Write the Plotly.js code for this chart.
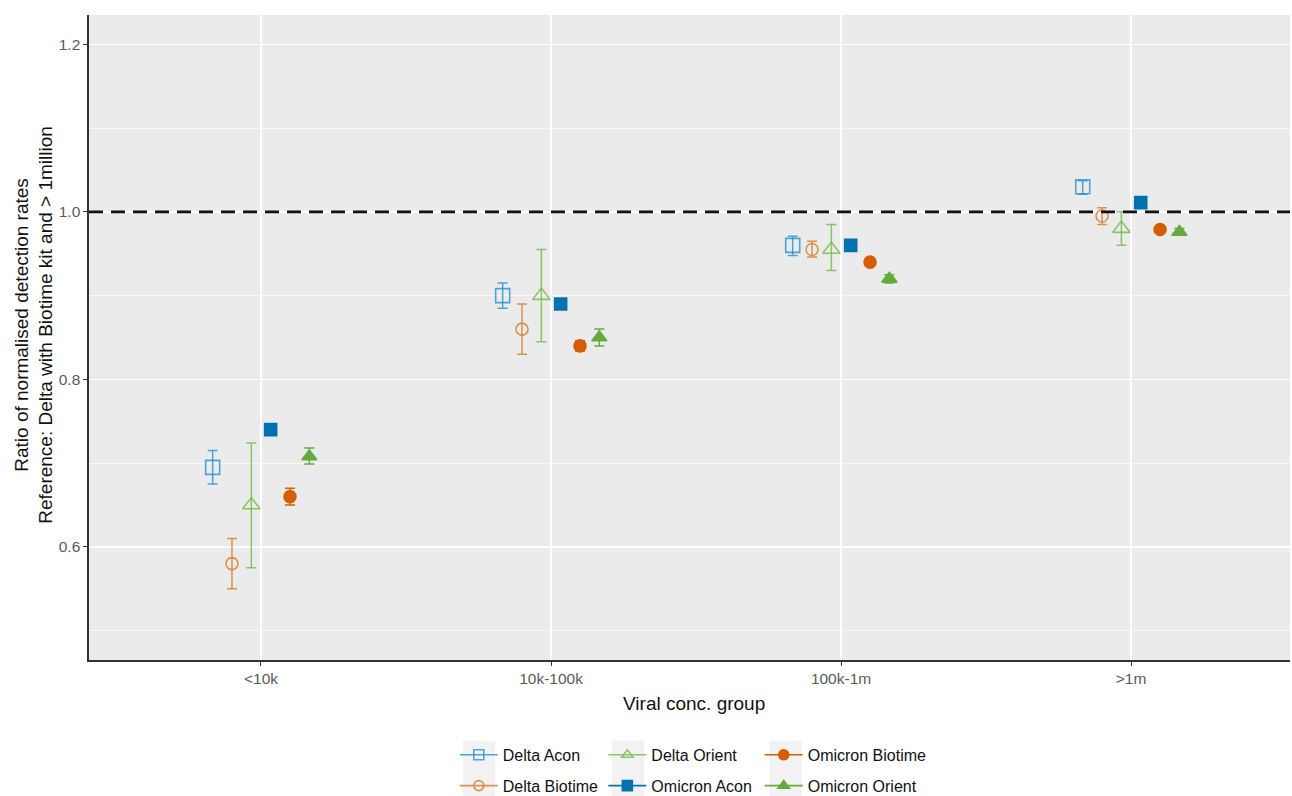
<!DOCTYPE html>
<html>
<head>
<meta charset="utf-8">
<script src="https://cdn.plot.ly/plotly-3.0.1.min.js"></script>
<style>
  html, body { margin: 0; padding: 0; background: #ffffff; }
  #chart { width: 1292px; height: 796px; }
</style>
</head>
<body>
<div id="chart"></div>
<script>
// Viral concentration groups on the x axis
const categories = ['<10k', '10k-100k', '100k-1m', '>1m'];

// Ratio of normalised detection rates with lower / upper interval bounds
const deltaAcon      = [0.695, 0.900, 0.960, 1.030];
const deltaAconLo    = [0.675, 0.885, 0.948, 1.021];
const deltaAconHi    = [0.715, 0.915, 0.971, 1.037];

const deltaBiotime   = [0.580, 0.860, 0.955, 0.995];
const deltaBiotimeLo = [0.550, 0.830, 0.946, 0.985];
const deltaBiotimeHi = [0.610, 0.890, 0.965, 1.005];

const deltaOrient    = [0.650, 0.900, 0.955, 0.980];
const deltaOrientLo  = [0.575, 0.845, 0.930, 0.960];
const deltaOrientHi  = [0.724, 0.955, 0.985, 1.000];

const omicronAcon    = [0.740, 0.890, 0.960, 1.011];
const omicronAconLo  = [0.737, 0.887, 0.957, 1.008];
const omicronAconHi  = [0.743, 0.893, 0.963, 1.014];

const omicronBiotime   = [0.660, 0.840, 0.940, 0.979];
const omicronBiotimeLo = [0.650, 0.834, 0.936, 0.975];
const omicronBiotimeHi = [0.670, 0.846, 0.944, 0.983];

const omicronOrient    = [0.708, 0.850, 0.920, 0.976];
const omicronOrientLo  = [0.699, 0.840, 0.915, 0.972];
const omicronOrientHi  = [0.718, 0.860, 0.925, 0.980];

// reference level of the ratio (dashed line)
const referenceLevel = 1.0;

const seriesNames = ['Delta Acon', 'Delta Biotime', 'Delta Orient',
                     'Omicron Acon', 'Omicron Biotime', 'Omicron Orient'];

// styling per series (colour, symbol, size) and legend column
const styles = [
  {color: 'rgba(40,145,205,0.80)', symbol: 'square-open',      size: 14, legend: 'legend'},
  {color: 'rgba(214,130,50,0.85)', symbol: 'circle-open',      size: 12, legend: 'legend'},
  {color: 'rgba(120,190,80,0.85)', symbol: 'triangle-up-open', size: 15, legend: 'legend2'},
  {color: '#0072B2',               symbol: 'square',           size: 12, legend: 'legend2'},
  {color: '#D55E00',               symbol: 'circle',           size: 12, legend: 'legend3'},
  {color: '#62AC3E',               symbol: 'triangle-up',      size: 13, legend: 'legend3'}
];

const values = [deltaAcon, deltaBiotime, deltaOrient, omicronAcon, omicronBiotime, omicronOrient];
const lows   = [deltaAconLo, deltaBiotimeLo, deltaOrientLo, omicronAconLo, omicronBiotimeLo, omicronOrientLo];
const highs  = [deltaAconHi, deltaBiotimeHi, deltaOrientHi, omicronAconHi, omicronBiotimeHi, omicronOrientHi];

// dodge the six series side by side within each group
const dodgeWidth = 0.4;
const nSeries = seriesNames.length;

const traces = [];
seriesNames.forEach((name, i) => {
  const st = styles[i];
  const offset = (i - (nSeries - 1) / 2) * dodgeWidth / nSeries;
  const xs = categories.map((c, k) => k + offset);
  const v = values[i];
  traces.push({
    type: 'scatter',
    mode: 'markers',
    name: name,
    x: xs,
    y: v,
    showlegend: false,
    marker: {color: st.color, symbol: st.symbol, size: st.size, line: {color: st.color, width: 1.6}},
    error_y: {
      type: 'data',
      symmetric: false,
      array: highs[i].map((h, k) => h - v[k]),
      arrayminus: lows[i].map((l, k) => v[k] - l),
      color: st.color,
      thickness: 1.5,
      width: 5
    },
    hovertemplate: name + '<br>%{y:.3f}<extra></extra>'
  });
});

// legend entries: point + line keys arranged in three columns
seriesNames.forEach((name, i) => {
  const st = styles[i];
  traces.push({
    type: 'scatter',
    mode: 'lines+markers',
    name: name,
    x: [null],
    y: [null],
    legend: st.legend,
    legendgroup: 'g' + i,
    hoverinfo: 'skip',
    line: {color: st.color, width: 1.6},
    marker: {color: st.color, symbol: st.symbol, size: 10, line: {color: st.color, width: 1.6}}
  });
});

const legendBase = {
  xref: 'container', yref: 'container',
  xanchor: 'left', yanchor: 'top',
  orientation: 'v',
  bgcolor: 'rgba(0,0,0,0)',
  tracegroupgap: 7,
  itemwidth: 38,
  font: {family: 'Liberation Sans, Arial, sans-serif', size: 16, color: '#111'}
};

// light key backgrounds behind the legend symbols
const keyBg = [0.3114, 0.4355, 0.5665].map(x0 => ({
  type: 'rect', xref: 'paper', yref: 'paper',
  x0: x0, x1: x0 + 0.0268, y0: -0.125, y1: -0.23,
  fillcolor: '#F2F2F2', line: {width: 0}, layer: 'below'
}));

const titleFont = {family: 'Liberation Sans, Arial, sans-serif', size: 19, color: '#111'};
const tickFont = {family: 'Liberation Sans, Arial, sans-serif', size: 15.5, color: '#5a5a5a'};

const layout = {
  width: 1292,
  height: 796,
  margin: {l: 89, r: 2, t: 15, b: 136, autoexpand: false},
  paper_bgcolor: '#ffffff',
  plot_bgcolor: '#EBEBEB',
  font: {family: 'Liberation Sans, Arial, sans-serif', color: '#111'},
  showlegend: true,
  legend:  Object.assign({}, legendBase, {x: 0.352, y: 0.073}),
  legend2: Object.assign({}, legendBase, {x: 0.467, y: 0.073}),
  legend3: Object.assign({}, legendBase, {x: 0.588, y: 0.073}),
  xaxis: {
    range: [-0.593, 3.548],
    tickvals: [0, 1, 2, 3],
    ticktext: categories,
    showgrid: true,
    gridcolor: '#ffffff',
    gridwidth: 1.3,
    zeroline: false,
    showline: true,
    linecolor: '#333333',
    linewidth: 1.6,
    ticks: 'outside',
    ticklen: 4,
    tickwidth: 1,
    tickcolor: '#333333',
    automargin: false,
    tickfont: tickFont
  },
  yaxis: {
    range: [0.465, 1.235],
    tickvals: [0.6, 0.8, 1.0, 1.2],
    tickformat: '.1f',
    showgrid: true,
    gridcolor: '#ffffff',
    gridwidth: 1.3,
    minor: {tickvals: [0.5, 0.7, 0.9, 1.1], showgrid: true, gridcolor: '#ffffff', gridwidth: 0.7, ticks: ''},
    zeroline: false,
    showline: true,
    linecolor: '#333333',
    linewidth: 1.6,
    ticks: 'outside',
    ticklen: 4,
    tickwidth: 1,
    tickcolor: '#333333',
    automargin: false,
    tickfont: tickFont
  },
  annotations: [
    {text: 'Viral conc. group', xref: 'paper', yref: 'paper',
     x: 0.504, y: -0.0667, xanchor: 'center', yanchor: 'middle',
     showarrow: false, font: titleFont},
    {text: 'Ratio of normalised detection rates<br>Reference: Delta with Biotime kit and > 1million',
     xref: 'paper', yref: 'paper', x: -0.0465, y: 0.52, xanchor: 'center', yanchor: 'middle',
     textangle: -90, showarrow: false, font: titleFont}
  ],
  shapes: [
    {type: 'line', xref: 'paper', yref: 'y', x0: 0, x1: 1, y0: referenceLevel, y1: referenceLevel,
     line: {color: '#111111', width: 2.8, dash: '14px,8px'}, layer: 'above'}
  ].concat(keyBg)
};

Plotly.newPlot('chart', traces, layout, {displayModeBar: false, staticPlot: true});
</script>
</body>
</html>
